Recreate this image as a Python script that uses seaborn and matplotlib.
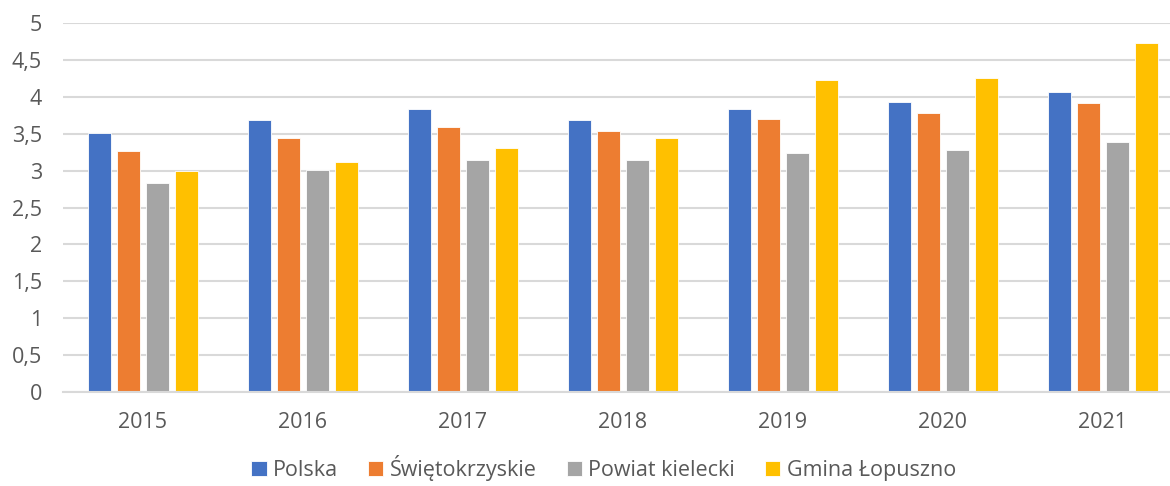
import matplotlib
matplotlib.use("Agg")
import matplotlib.pyplot as plt
import seaborn as sns
import pandas as pd

years = ["2015", "2016", "2017", "2018", "2019", "2020", "2021"]
series_names = ["Polska", "Świętokrzyskie", "Powiat kielecki", "Gmina Łopuszno"]
polska = [3.51, 3.68, 3.84, 3.68, 3.83, 3.93, 4.07]
swietokrzyskie = [3.27, 3.44, 3.59, 3.54, 3.70, 3.78, 3.92]
powiat = [2.83, 3.01, 3.14, 3.14, 3.24, 3.28, 3.39]
gmina = [2.99, 3.11, 3.31, 3.44, 4.23, 4.26, 4.73]
yticks = [0, 0.5, 1, 1.5, 2, 2.5, 3, 3.5, 4, 4.5, 5]
ytick_labels = ["0", "0,5", "1", "1,5", "2", "2,5", "3", "3,5", "4", "4,5", "5"]
colors = ["#4472C4", "#ED7D31", "#A5A5A5", "#FFC000"]

rows = []
for name, vals in zip(series_names, [polska, swietokrzyskie, powiat, gmina]):
    for y, v in zip(years, vals):
        rows.append({"rok": y, "seria": name, "wartosc": v})
df = pd.DataFrame(rows)

sns.set_theme(style="white")
plt.rcParams['font.family'] = ['Open Sans', 'DejaVu Sans']

fig = plt.figure(figsize=(11.7, 4.86), dpi=100)
ax = fig.add_axes([0.0538, 0.193, 0.957, 0.76])

sns.barplot(data=df, x="rok", y="wartosc", hue="seria", order=years,
            hue_order=series_names, palette=colors, width=0.725, gap=0.2,
            saturation=1, edgecolor="white", linewidth=0.6, ax=ax,
            legend=True, errorbar=None)

ax.set_ylim(0, 5)
ax.set_xlim(-0.5, 6.5)
ax.set_yticks(yticks)
ax.set_yticklabels(ytick_labels)
ax.yaxis.grid(True, color="#D9D9D9", linewidth=1.5)
ax.set_axisbelow(True)
for s in ["left", "right", "top"]:
    ax.spines[s].set_visible(False)
ax.spines["bottom"].set_color("#D9D9D9")
ax.spines["bottom"].set_linewidth(1.5)
ax.tick_params(axis="both", length=0, labelsize=15.5, colors="#595959")
ax.tick_params(axis="y", pad=15)
ax.tick_params(axis="x", pad=14)
ax.set_xlabel("")
ax.set_ylabel("")

handles, labels = ax.get_legend_handles_labels()
ax.legend_.remove()
fig.legend(handles, labels, loc="center", bbox_to_anchor=(0.516, 0.037), ncol=4,
           frameon=False, fontsize=15.5, handlelength=0.7, handleheight=0.7,
           handletextpad=0.3, columnspacing=1.4, labelcolor="#595959")

fig.savefig("out.png", dpi=100)
